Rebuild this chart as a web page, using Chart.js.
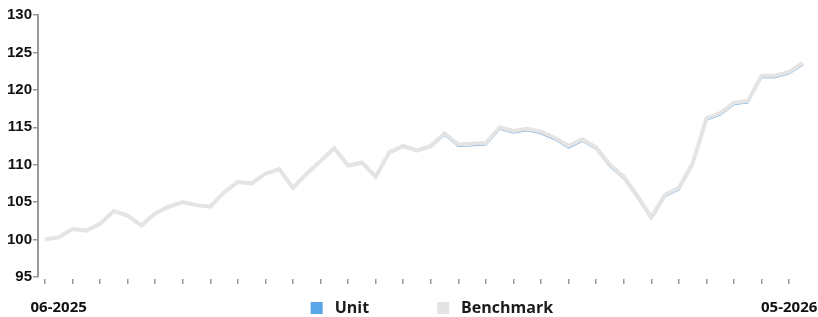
<!DOCTYPE html>
<html>
<head>
<meta charset="utf-8">
<script src="https://cdn.jsdelivr.net/npm/chart.js@4.4.1/dist/chart.umd.min.js"></script>
<style>
html,body{margin:0;padding:0;background:#fff;}
#wrap{width:818px;height:317px;}
</style>
</head>
<body>
<div id="wrap"><canvas id="c" width="818" height="317"></canvas></div>
<script>
// ---- data ----
const periods = Array.from({length: 56}, (_, i) => 'P' + (i + 1));
const benchmarkValues = [
  100.0, 100.3, 101.4, 101.2, 102.1, 103.8, 103.2, 101.9, 103.5, 104.4,
  105.0, 104.6, 104.4, 106.3, 107.7, 107.5, 108.8, 109.4, 106.9, 108.8,
  110.5, 112.2, 109.9, 110.3, 108.4, 111.7, 112.5, 111.9, 112.5, 114.2,
  112.7, 112.8, 112.9, 115.0, 114.5, 114.8, 114.4, 113.6, 112.5, 113.4,
  112.3, 110.0, 108.4, 105.8, 103.0, 106.0, 106.9, 110.2, 116.2, 116.9,
  118.3, 118.5, 121.9, 121.9, 122.4, 123.6
];
const unitValues = [
  100.0, 100.3, 101.4, 101.2, 102.1, 103.8, 103.2, 101.9, 103.5, 104.4,
  105.0, 104.6, 104.4, 106.3, 107.7, 107.5, 108.8, 109.4, 106.9, 108.8,
  110.5, 112.2, 109.8, 110.2, 108.3, 111.6, 112.4, 111.8, 112.4, 114.0,
  112.5, 112.6, 112.7, 114.8, 114.3, 114.6, 114.2, 113.4, 112.3, 113.2,
  112.1, 109.8, 108.2, 105.6, 102.8, 105.8, 106.7, 110.0, 116.0, 116.7,
  118.1, 118.3, 121.7, 121.7, 122.2, 123.4
];
const yTickValues = [95, 100, 105, 110, 115, 120, 125, 130];
const xTickLabels = ['06-2025', '05-2026'];
const xTickLabelIndex = [1, 54];
const seriesNames = ['Unit', 'Benchmark'];

// ---- styles ----
const UNIT_COLOR = '#5aa5e6';
const BENCH_COLOR = '#e4e4e4';
const AXIS_COLOR = '#999999';
const X_FONT = {family: "'Open Sans', sans-serif", size: 15, weight: 'bold'};
const Y_FONT = {family: "'Liberation Sans', Arial, sans-serif", size: 15, weight: 'bold'};
const LEGEND_FONT = {family: "'Open Sans', sans-serif", size: 16, weight: 'bold'};
const X_TICK_LEN = 7, X_TICK_PAD = 15;
const LEG_BOX = 20, LEG_PAD = 64;

// put the legend row on the same line as the x tick labels
const legendRow = {
  id: 'legendRow',
  afterLayout(chart) {
    const lg = chart.legend, xs = chart.scales.x, ca = chart.chartArea;
    if (!lg || !xs) return;
    const itemH = Math.max(LEGEND_FONT.size, LEG_BOX);
    const rowMid = xs.top + X_TICK_LEN + X_TICK_PAD + X_FONT.size * 1.2 / 2;
    lg.top = rowMid - LEG_PAD - itemH / 2;
    lg.bottom = chart.height;
    lg.height = lg.bottom - lg.top;
    lg.left = ca.left + 12;
    lg.right = ca.right;
    lg.width = lg.right - lg.left;
  }
};

new Chart(document.getElementById('c'), {
  type: 'line',
  data: {
    labels: periods,
    datasets: [
      {
        label: seriesNames[0],
        data: unitValues,
        borderColor: UNIT_COLOR,
        backgroundColor: UNIT_COLOR,
        borderWidth: 2,
        pointRadius: 0,
        tension: 0,
        order: 1
      },
      {
        label: seriesNames[1],
        data: benchmarkValues,
        borderColor: BENCH_COLOR,
        backgroundColor: BENCH_COLOR,
        borderWidth: 4,
        pointRadius: 0,
        tension: 0,
        order: 0
      }
    ]
  },
  options: {
    responsive: false,
    animation: false,
    layout: {padding: {top: 15, right: 7, left: 0, bottom: 0}},
    plugins: {
      tooltip: {enabled: false},
      legend: {
        position: 'bottom',
        maxHeight: 1,
        labels: {
          font: LEGEND_FONT,
          color: '#1a1a1a',
          boxWidth: LEG_BOX,
          boxHeight: LEG_BOX,
          padding: LEG_PAD,
          sort: (a, b) => a.datasetIndex - b.datasetIndex,
          generateLabels: (chart) => {
            const items = Chart.defaults.plugins.legend.labels.generateLabels(chart);
            return items.map(it => Object.assign(it, {
              fillStyle: chart.data.datasets[it.datasetIndex].borderColor,
              strokeStyle: '#ffffff',
              lineWidth: 8,
              lineDash: []
            }));
          }
        }
      }
    },
    scales: {
      x: {
        type: 'category',
        offset: true,
        afterFit: (s) => { s.height = 39; },
        border: {display: true, color: 'rgba(0,0,0,0)', width: 4},
        grid: {
          display: true,
          drawOnChartArea: false,
          drawTicks: true,
          tickLength: X_TICK_LEN,
          lineWidth: 1.5,
          tickColor: (ctx) => (ctx.index % 2 === 0 ? AXIS_COLOR : 'rgba(0,0,0,0)')
        },
        ticks: {
          autoSkip: false,
          maxRotation: 0,
          minRotation: 0,
          padding: X_TICK_PAD,
          color: '#111111',
          font: X_FONT,
          callback: (val, idx) => {
            const k = xTickLabelIndex.indexOf(idx);
            return k >= 0 ? xTickLabels[k] : '';
          }
        }
      },
      y: {
        min: yTickValues[0],
        max: yTickValues[yTickValues.length - 1],
        afterFit: (s) => { s.width = 38; },
        afterBuildTicks: (s) => { s.ticks = yTickValues.map(v => ({value: v})); },
        border: {display: true, color: AXIS_COLOR, width: 2},
        grid: {
          display: true,
          drawOnChartArea: false,
          drawTicks: true,
          tickLength: 5,
          lineWidth: 1.5,
          tickColor: AXIS_COLOR
        },
        ticks: {
          padding: 1,
          color: '#111111',
          font: Y_FONT
        }
      }
    }
  },
  plugins: [legendRow]
});
</script>
</body>
</html>
